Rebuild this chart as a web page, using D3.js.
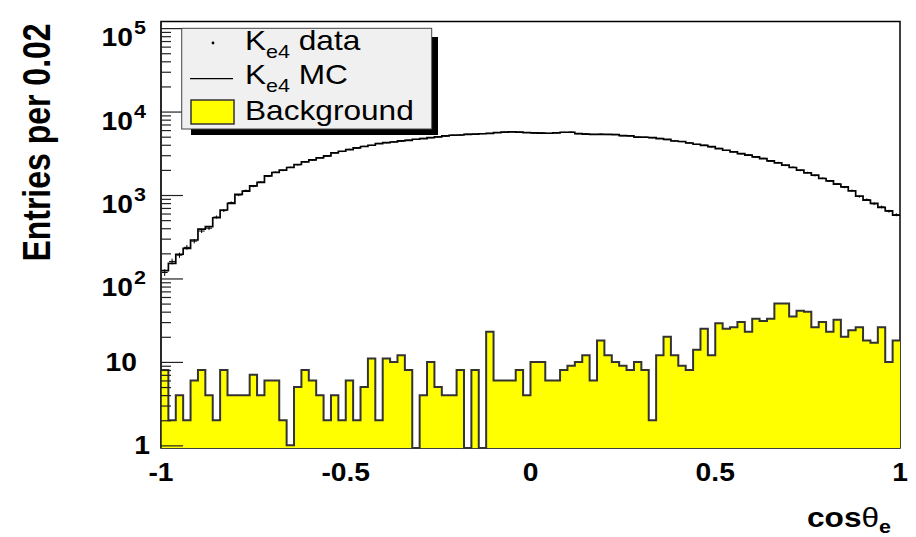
<!DOCTYPE html>
<html><head><meta charset="utf-8">
<script src="https://cdn.jsdelivr.net/npm/d3@7"></script>
<style>body{margin:0;background:#fff}svg{display:block}text{font-family:"Liberation Sans",Arial,Helvetica,sans-serif;fill:#000}</style>
</head><body><svg id="c" width="916" height="537"></svg>
<script>
// ---------------- data ----------------
const binLow = -1, binWidth = 0.02;
const mcValues = [124,152,195,230,289,391,417,534,661,794,1018,1115,1290,1416,1695,1862,1984,2136,2321,2494,
  2636,2782,2939,3191,3343,3500,3664,3811,3950,4137,4250,4318,4444,4525,4656,4746,4880,4970,5100,5200,
  5240,5340,5380,5420,5490,5590,5680,5720,5680,5590,5550,5520,5500,5550,5650,5650,5450,5380,5340,5340,
  5320,5300,5150,5100,4950,4920,4880,4750,4630,4440,4380,4200,4060,3930,3790,3600,3440,3280,3140,3000,
  2860,2730,2560,2430,2275,2136,1984,1840,1728,1578,1478,1350,1253,1122,970,869,794,711,647,575];
const dataValues = [118,160,190,236,280,370,400,545,650,810,1000,1130,1275,1430,1680,1880,1970,2150,2300,2510,
  2620,2800,2920,3210,3320,3520,3640,3830,3930,4150,4230,4340,4420,4550,4630,4770,4860,4990,5080,5220,
  5220,5360,5360,5440,5470,5610,5660,5740,5660,5610,5530,5540,5480,5570,5630,5670,5430,5400,5320,5360,
  5300,5320,5130,5120,4930,4940,4860,4770,4610,4460,4360,4220,4040,3950,3770,3620,3420,3300,3120,3020,
  2840,2750,2540,2450,2260,2150,1970,1860,1710,1590,1470,1360,1240,1130,960,880,785,720,640,580];
const bkgValues = [8,2,4,2,6,8,4,2,8,4,4,4,7,4,6,6,2,1,5,8,
  6,4,2,4,2,6,2,5,11,2,11,10,12,8,0,4,10,5,4,4,
  8,0,8,0,23,6,6,6,8,4,10,10,6,6,8,9,10,12,6,18,
  12,10,9,8,10,8,2,12,20,12,9,8,14,25,12,29,25,26,30,23,
  33,31,33,50,50,35,41,40,26,30,23,32,20,24,26,18,17,26,10,18];
const xTickValues = [-1,-0.5,0,0.5,1];
const xTickLabels = ["-1","-0.5","0","0.5","1"];
const yMajorValues = [1,10,100,1000,10000,100000];
const yTickBase = ["1","10","10","10","10","10"];
const yTickExp = ["","","2","3","4","5"];
const yMinorMultipliers = [2,3,4,5,6,7,8,9];
const yTitle = "Entries per 0.02";
const legendNames = ["data","MC","Background"];

// ---------------- layout ----------------
const svg = d3.select("#c");
const L = 161, R = 900, T = 21.5, B = 448;
const SX = 1.13;
const x = d3.scaleLinear().domain([-1, 1]).range([L, R]);
const y = d3.scaleLog().domain([0.93, 1.2e5]).range([B, T]);
const yv = v => v > 0 ? y(v) : B;
const edge = i => x(binLow + i * binWidth);

// frame
svg.append("rect").attr("x", L).attr("y", T).attr("width", R - L).attr("height", B - T)
  .attr("fill", "#fff").attr("stroke", "#000").attr("stroke-width", 1.5);

// background fill
let fillPath = `M${edge(0)},${B}`;
bkgValues.forEach((v, i) => { fillPath += `V${yv(v)}H${edge(i + 1)}`; });
fillPath += `V${B}Z`;
svg.append("path").attr("d", fillPath).attr("fill", "#ffff00").attr("stroke", "none");
let bkgLine = `M${edge(0)},${yv(bkgValues[0])}`;
bkgValues.forEach((v, i) => { if (i > 0) bkgLine += `V${yv(v)}`; bkgLine += `H${edge(i + 1)}`; });
svg.append("path").attr("d", bkgLine).attr("fill", "none").attr("stroke", "#333").attr("stroke-width", 2);

// MC step line
let mcLine = `M${edge(0)},${y(mcValues[0])}`;
mcValues.forEach((v, i) => { if (i > 0) mcLine += `V${y(v)}`; mcLine += `H${edge(i + 1)}`; });
svg.append("path").attr("d", mcLine).attr("fill", "none").attr("stroke", "#000").attr("stroke-width", 1.7);

// data points with error bars
const dg = svg.append("g").attr("stroke", "#000").attr("stroke-width", 1);
dataValues.forEach((v, i) => {
  const cx = x(binLow + (i + 0.5) * binWidth), e = Math.sqrt(v);
  dg.append("line").attr("x1", cx).attr("x2", cx).attr("y1", y(v + e)).attr("y2", y(v - e));
  dg.append("line").attr("x1", cx - 3).attr("x2", cx + 3).attr("y1", y(v)).attr("y2", y(v));
});

// y axis ticks (drawn on top)
const minors = [];
yMajorValues.slice(0, -1).forEach(m => yMinorMultipliers.forEach(k => minors.push(m * k)));
const axMaj = d3.axisRight(y).tickValues(yMajorValues).tickSize(22).tickFormat("");
const axMin = d3.axisRight(y).tickValues(minors).tickSize(10).tickFormat("");
const ga = svg.append("g").attr("transform", `translate(${L},0)`).call(axMaj);
const gb = svg.append("g").attr("transform", `translate(${L},0)`).call(axMin);
[ga, gb].forEach(g => { g.select(".domain").remove(); g.selectAll("line").attr("stroke", "#222").attr("stroke-width", 1.2); });
svg.append("line").attr("x1", L).attr("x2", L).attr("y1", T).attr("y2", B).attr("stroke", "#222").attr("stroke-width", 1.5);

// y tick labels
yMajorValues.forEach((v, i) => {
  const ty = y(v);
  if (yTickExp[i] === "") {
    const xr = v === 1 ? 150 : 137;
    svg.append("text").attr("transform", `translate(${xr},${ty + 9}) scale(${SX},1)`)
      .attr("text-anchor", "end").attr("font-size", 25).attr("font-weight", "bold").text(yTickBase[i]);
  } else {
    svg.append("text").attr("transform", `translate(133,${ty + 18}) scale(${SX},1)`)
      .attr("text-anchor", "end").attr("font-size", 25).attr("font-weight", "bold").text(yTickBase[i]);
    svg.append("text").attr("transform", `translate(134,${ty + 6}) scale(${SX},1)`)
      .attr("font-size", 19).attr("font-weight", "bold").text(yTickExp[i]);
  }
});

// x tick labels
xTickValues.forEach((v, i) => {
  svg.append("text").attr("transform", `translate(${x(v)},481) scale(${SX},1)`)
    .attr("text-anchor", "middle").attr("font-size", 25).attr("font-weight", "bold").text(xTickLabels[i]);
});

// axis titles
const xt = svg.append("text").attr("transform", `translate(807,527) scale(${SX},1)`)
  .attr("font-size", 28).attr("font-weight", "bold");
xt.append("tspan").text("cos");
xt.append("tspan").attr("font-weight", "normal").text("θ");
xt.append("tspan").attr("font-size", 19).attr("dy", 6).text("e");

svg.append("text").attr("transform", `translate(50,142.5) scale(1.2,1) rotate(-90)`)
  .attr("text-anchor", "middle").attr("font-size", 32).attr("font-weight", "bold").text(yTitle);

// legend
svg.append("rect").attr("x", 191).attr("y", 129).attr("width", 247).attr("height", 6).attr("fill", "#000");
svg.append("rect").attr("x", 432).attr("y", 37).attr("width", 6).attr("height", 98).attr("fill", "#000");
svg.append("rect").attr("x", 181.7).attr("y", 28.3).attr("width", 250).attr("height", 100.7)
  .attr("fill", "#f0f0f0").attr("stroke", "#444").attr("stroke-width", 1);
svg.append("circle").attr("cx", 213).attr("cy", 43).attr("r", 1.4).attr("fill", "#000");
svg.append("line").attr("x1", 190).attr("x2", 233).attr("y1", 78.7).attr("y2", 78.7).attr("stroke", "#000").attr("stroke-width", 1.2);
svg.append("rect").attr("x", 191).attr("y", 100).attr("width", 43).attr("height", 24)
  .attr("fill", "#ffff00").attr("stroke", "#333").attr("stroke-width", 1.5);
[[50, legendNames[0]], [84, legendNames[1]]].forEach(([by, name]) => {
  const t = svg.append("text").attr("transform", `translate(245,${by}) scale(${SX},1)`).attr("font-size", 28);
  t.append("tspan").text("K");
  t.append("tspan").attr("font-size", 19).attr("dy", 8).text("e4");
  t.append("tspan").attr("dy", -8).text(" " + name);
});
svg.append("text").attr("transform", `translate(245,120) scale(${SX},1)`).attr("font-size", 28).text(legendNames[2]);
</script></body></html>
